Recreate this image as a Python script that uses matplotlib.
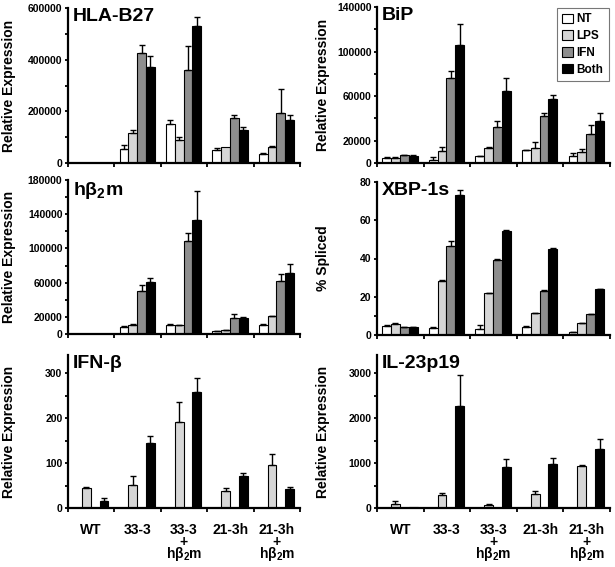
import numpy as np
import matplotlib
matplotlib.use("Agg")
from matplotlib import pyplot as plt

plt.rcParams['font.family'] = ['Liberation Sans', 'DejaVu Sans']
plt.rcParams['font.weight'] = 'bold'
plt.rcParams['mathtext.fontset'] = 'custom'
plt.rcParams['mathtext.rm'] = 'Liberation Sans:bold'
plt.rcParams['mathtext.it'] = 'Liberation Sans:bold'
plt.rcParams['mathtext.bf'] = 'Liberation Sans:bold'

groups = ["WT", "33-3", "33-3\n+\nh\u03b2$_2$m", "21-3h", "21-3h\n+\nh\u03b2$_2$m"]
treatments = ["NT", "LPS", "IFN", "Both"]
colors = ["white", "#d6d6d6", "#8e8e8e", "black"]

# HLA-B27, rows = groups, cols = NT, LPS, IFN, Both
hla_vals = [[0, 0, 0, 0],
            [54000, 116000, 425000, 370000],
            [152000, 90000, 361000, 531000],
            [49000, 61000, 174000, 126000],
            [35000, 61000, 194000, 168000]]
hla_err = [[0, 0, 0, 0],
           [14000, 10000, 33000, 45000],
           [13000, 10000, 93000, 36000],
           [9000, 0, 10000, 15000],
           [4000, 6000, 93000, 19000]]

bip_vals = [[4500, 4800, 6900, 6600],
            [3000, 10500, 76000, 106000],
            [6000, 13500, 32300, 65000],
            [11400, 13500, 42000, 57000],
            [6600, 9600, 26300, 37400]]
bip_err = [[500, 500, 500, 500],
           [2000, 4000, 6500, 18500],
           [500, 500, 5700, 11000],
           [500, 5000, 3000, 3900],
           [2400, 3300, 7500, 7500]]

b2m_vals = [[0, 0, 0, 0],
            [7800, 10900, 50600, 60300],
            [10900, 10100, 109000, 133400],
            [3100, 4300, 18700, 18700],
            [10900, 20600, 61500, 71200]]
b2m_err = [[0, 0, 0, 0],
           [1500, 1200, 7000, 5000],
           [1200, 1000, 9000, 33800],
           [300, 500, 4700, 800],
           [1200, 800, 9000, 10500]]

xbp_vals = [[4.9, 5.9, 4.0, 4.0],
            [3.7, 28.3, 46.6, 73.0],
            [3.1, 21.7, 39.1, 54.4],
            [4.3, 11.3, 23.1, 44.9],
            [1.4, 6.1, 10.8, 24.0]]
xbp_err = [[0.3, 0.6, 0.2, 0.2],
           [0.3, 0.4, 2.4, 3.0],
           [2.0, 0.3, 0.8, 0.3],
           [0.4, 0.3, 0.4, 0.5],
           [0.2, 0.3, 0.3, 0.3]]

# only LPS and Both measured
ifn_vals = [[0, 45, 0, 16],
            [0, 51, 0, 145],
            [0, 191, 0, 257],
            [0, 37.5, 0, 71],
            [0, 96, 0, 42]]
ifn_err = [[0, 1.5, 0, 7],
           [0, 21, 0, 16],
           [0, 44, 0, 32],
           [0, 6, 0, 6],
           [0, 24, 0, 4.5]]

il23_vals = [[0, 90, 0, 22],
             [0, 284, 0, 2261],
             [0, 75, 0, 910],
             [0, 313, 0, 985],
             [0, 933, 0, 1306]]
il23_err = [[0, 60, 0, 0],
            [0, 50, 0, 687],
            [0, 22, 0, 187],
            [0, 60, 0, 134],
            [0, 22, 0, 224]]

panels = [
    ("HLA-B27", hla_vals, hla_err, "Relative Expression", 600000,
     [0, 200000, 400000, 600000], [100000, 300000, 500000]),
    ("BiP", bip_vals, bip_err, "Relative Expression", 140000,
     [0, 20000, 60000, 100000, 140000], [40000, 80000, 120000]),
    ("h\u03b2$_2$m", b2m_vals, b2m_err, "Relative Expression", 180000,
     [0, 20000, 60000, 100000, 140000, 180000], [40000, 80000, 120000, 160000]),
    ("XBP-1s", xbp_vals, xbp_err, "% Spliced", 80,
     [0, 20, 40, 60, 80], [10]),
    ("IFN-\u03b2", ifn_vals, ifn_err, "Relative Expression", 340,
     [0, 100, 200, 300], [50, 150, 250]),
    ("IL-23p19", il23_vals, il23_err, "Relative Expression", 3400,
     [0, 1000, 2000, 3000], [500, 1500, 2500]),
]

W, H = 615, 567
fig = plt.figure(figsize=(W / 100, H / 100), dpi=100)

# pixel boxes: (left, top, right, bottom)
boxes = [(68, 8, 300, 163), (377, 7, 610, 163),
         (68, 180, 300, 334), (377, 182, 610, 335),
         (68, 355, 300, 508), (377, 355, 610, 508)]

bw = 0.19
for i, (title, vals, errs, ylab, ytop, majors, minors) in enumerate(panels):
    l, t, r, b = boxes[i]
    ax = fig.add_axes([l / W, (H - b) / H, (r - l) / W, (b - t) / H])
    vals = np.array(vals, dtype=float)
    errs = np.array(errs, dtype=float)
    for k in range(4):
        x = np.arange(5) + 0.49 + (k - 1.5) * bw
        v = vals[:, k]
        e = errs[:, k]
        show = v > 0
        if not show.any():
            continue
        ax.bar(x[show], v[show], width=bw, color=colors[k], edgecolor='black',
               linewidth=0.8, label=treatments[k], zorder=2)
        m = show & (e > 0)
        ax.errorbar(x[m], v[m], yerr=[np.zeros(m.sum()), e[m]], fmt='none',
                    ecolor='black', elinewidth=1, capsize=2.5, capthick=1, zorder=3)
    ax.set_xlim(0, 5)
    ax.set_ylim(0, ytop)
    ax.spines['top'].set_visible(False)
    ax.spines['right'].set_visible(False)
    ax.spines['left'].set_linewidth(1.6)
    ax.spines['bottom'].set_linewidth(1.6)
    ax.set_xticks(np.arange(6))
    ax.set_xticklabels([])
    ax.set_xticks(np.arange(5) + 0.5, minor=True)
    if i >= 4:
        ax.set_xticklabels(groups, minor=True, fontsize=10, fontweight='bold',
                           linespacing=0.75)
    ax.tick_params(axis='x', which='major', direction='out', length=3, width=1.3)
    ax.tick_params(axis='x', which='minor', length=0, pad=11)
    ax.set_yticks(majors)
    ax.set_yticklabels([str(v) for v in majors], fontsize=7.5, fontweight='bold')
    ax.set_yticks(minors, minor=True)
    ax.tick_params(axis='y', which='both', direction='out', length=2.5, width=1.3, pad=1.5)
    ax.set_ylabel(ylab, fontsize=10, fontweight='bold')
    if i % 2 == 0:
        ax.yaxis.set_label_coords(-0.225, 0.5)
    else:
        ax.yaxis.set_label_coords(-0.2, 0.5)
    ax.text(0.02, 1.0, title, transform=ax.transAxes, va='top', ha='left',
            fontsize=14, fontweight='bold')
    if i == 1:
        leg = ax.legend(loc='upper right', fontsize=8.5, frameon=True, fancybox=False,
                        handlelength=0.9, handleheight=0.9, handletextpad=0.3,
                        labelspacing=0.4, borderpad=0.45, borderaxespad=0.1)
        leg.get_frame().set_edgecolor('#555555')
        leg.get_frame().set_linewidth(0.8)

plt.savefig('out.png', dpi=100)
